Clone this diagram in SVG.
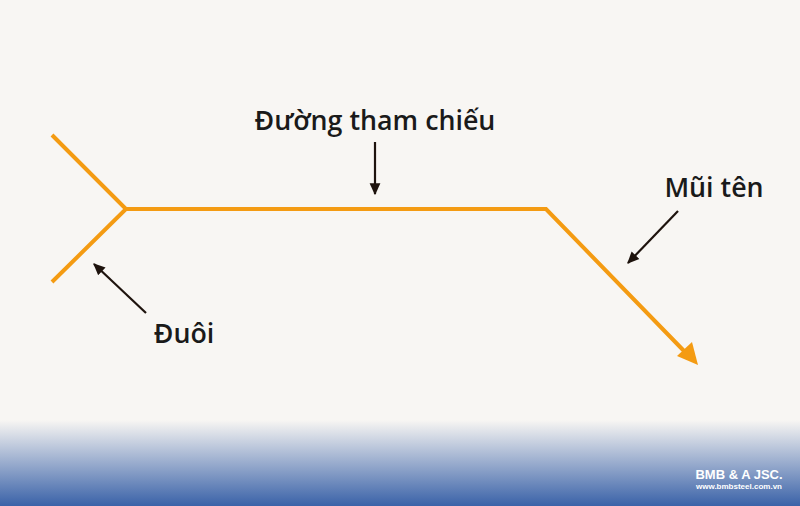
<svg xmlns="http://www.w3.org/2000/svg" width="800" height="506" viewBox="0 0 800 506">
<defs>
<linearGradient id="bg" x1="0" y1="0" x2="0" y2="1">
<stop offset="0" stop-color="#f8f6f3"/>
<stop offset="1" stop-color="#3a62a8"/>
</linearGradient>
<marker id="ah" viewBox="0 0 10 10" refX="9" refY="5" markerWidth="12" markerHeight="12" orient="auto" markerUnits="userSpaceOnUse">
<path d="M0,0.5 L10,5 L0,9.5 Z" fill="#1e130d"/>
</marker>
<style>
.lbl{font-family:"Open Sans","Noto Sans",sans-serif;font-weight:600;font-size:26.8px;fill:#1a1a1a}
.ptr{stroke:#1e130d;stroke-width:2.2;fill:none}
.sym{stroke:#f49b12;stroke-width:4;fill:none;stroke-linejoin:miter}
.logo{font-family:"Liberation Sans",Arial,sans-serif;font-weight:bold;fill:#ffffff}
</style>
</defs>
<rect width="800" height="506" fill="#f8f6f3"/>
<rect y="420" width="800" height="86" fill="url(#bg)"/>
<g id="symbol">
<polyline class="sym" points="52,135 126,209 52,282"/>
<polyline class="sym" points="126,209 546,209 685,352"/>
<polygon points="677,356 692,342 698,365" fill="#f49b12"/>
</g>
<g id="connectors">
<line class="ptr" x1="375" y1="142" x2="375" y2="194" marker-end="url(#ah)"/>
<line class="ptr" x1="146" y1="313" x2="94" y2="264" marker-end="url(#ah)"/>
<line class="ptr" x1="678" y1="211" x2="628" y2="263" marker-end="url(#ah)"/>
</g>
<g id="label-reference"><text class="lbl" x="375" y="130" text-anchor="middle">Đường tham chiếu</text></g>
<g id="label-arrow"><text class="lbl" x="714" y="197" text-anchor="middle">Mũi tên</text></g>
<g id="label-tail"><text class="lbl" x="184" y="343" text-anchor="middle">Đuôi</text></g>
<g id="logo">
<text class="logo" x="739" y="479" font-size="13" text-anchor="middle">BMB &amp; A JSC.</text>
<text class="logo" x="739" y="489" font-size="8" text-anchor="middle">www.bmbsteel.com.vn</text>
</g>
</svg>
